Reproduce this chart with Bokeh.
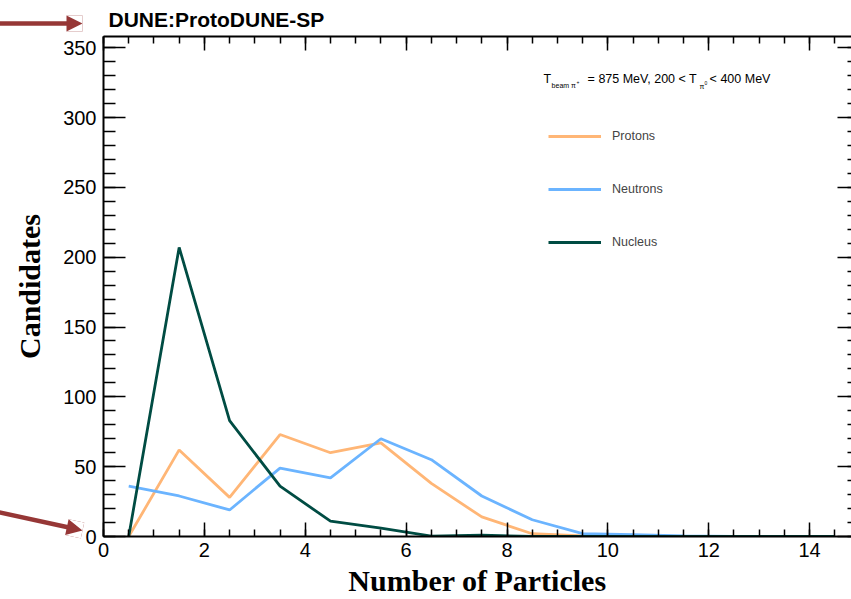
import math
from bokeh.plotting import figure
from bokeh.models import (Range1d, LinearAxis, SingleIntervalTicker, Label, Legend,
                          LegendItem, Arrow, NormalHead, OpenHead, CustomJSTickFormatter,
                          ColumnDataSource)
from bokeh.embed import file_html
from bokeh.resources import INLINE

# ---- data ----
n_particles = [0.5, 1.5, 2.5, 3.5, 4.5, 5.5, 6.5, 7.5, 8.5, 9.5, 10.5, 11.5, 12.5, 13.5, 14.5]
protons = [0, 62, 28, 73, 60, 67, 38, 14, 2, 0.4, 0, 0, 0, 0, 0]
neutrons = [36, 29, 19, 49, 42, 70, 55, 29, 12, 2, 1.3, 0.4, 0, 0, 0]
nucleus = [0, 207, 83, 36, 11, 6, 0.3, 1, 0, 0, 0, 0, 0, 0, 0]
series_names = ["Protons", "Neutrons", "Nucleus"]
series_colors = ["#FFB676", "#6BB4FF", "#004C43"]
x_ticks_interval = 2
y_ticks_interval = 50

TICK_FONT = "Liberation Sans"
TITLE_FONT = "Liberation Serif"

p = figure(width=851, height=599,
           x_range=Range1d(0, 14.83), y_range=Range1d(0, 358),
           output_backend="svg", toolbar_location=None,
           min_border_left=103, min_border_top=36, min_border_bottom=62, min_border_right=0)
p.outline_line_color = None
p.grid.visible = False
p.background_fill_color = "white"
p.border_fill_color = "white"

src = ColumnDataSource(dict(x=n_particles, Protons=protons, Neutrons=neutrons, Nucleus=nucleus))
renderers = []
for name, col in zip(series_names, series_colors):
    renderers.append(p.line("x", name, source=src, line_color=col, line_width=2.8))

bottom = p.below[0]
left = p.left[0]

xt = SingleIntervalTicker(interval=x_ticks_interval, num_minor_ticks=4)
yt = SingleIntervalTicker(interval=y_ticks_interval, num_minor_ticks=5)
blank = CustomJSTickFormatter(code="return ''")

top = LinearAxis(ticker=xt, formatter=blank)
right = LinearAxis(ticker=yt, formatter=blank)
p.add_layout(top, "above")
p.add_layout(right, "right")
bottom.ticker = xt
left.ticker = yt

for ax in (bottom, top):
    ax.major_tick_in = 14
    ax.minor_tick_in = 7
for ax in (left, right):
    ax.major_tick_in = 22
    ax.minor_tick_in = 12
for ax in (bottom, top, left, right):
    ax.major_tick_out = 0
    ax.minor_tick_out = 0
    ax.axis_line_width = 2
    ax.major_tick_line_width = 1.5
    ax.minor_tick_line_width = 1.5
    ax.axis_line_color = "black"
    ax.major_tick_line_color = "black"
    ax.minor_tick_line_color = "black"
    ax.major_label_text_font = TICK_FONT
    ax.major_label_text_font_size = "20px"
    ax.major_label_text_color = "black"
for ax in (top, right):
    ax.major_label_standoff = 0
right.axis_line_color = None
right.major_tick_in = 14
right.minor_tick_in = 4

bottom.axis_label = "Number of Particles"
left.axis_label = "Candidates"
for ax in (bottom, left):
    ax.axis_label_text_font = TITLE_FONT
    ax.axis_label_text_font_style = "bold"
    ax.axis_label_text_font_size = "30px"
    ax.axis_label_text_color = "black"
bottom.major_label_standoff = 6
bottom.axis_label_standoff = 4
left.major_label_standoff = 7
left.axis_label_standoff = 14

# title
p.title.text = "DUNE:ProtoDUNE-SP"
p.title.text_font = TICK_FONT
p.title.text_font_size = "21px"
p.title.text_font_style = "bold"
p.title.align = "left"
p.title.offset = 5
p.title.standoff = 11
p.title.text_color = "black"

# legend
leg_items = [LegendItem(label=n, renderers=[r]) for n, r in zip(series_names, renderers)]
legend = Legend(items=leg_items, location=(445, 284), glyph_width=53, glyph_height=20,
                label_height=20, spacing=33, padding=0, margin=0,
                border_line_color=None, background_fill_alpha=0,
                label_text_font=TICK_FONT, label_text_font_size="12.5px", label_standoff=11)
p.add_layout(legend)

# annotation text with sub/superscripts
def lab(x, y, t, size):
    p.add_layout(Label(x=x, y=y, text=t, text_font=TICK_FONT, text_font_size=size,
                       text_baseline="middle", text_align="left", text_color="black"))

lab(8.725, 327.9, "T", "12.5px")
lab(8.884, 322.7, "beam π", "7px")
lab(9.379, 325.4, "+", "5px")
lab(9.598, 327.9, "= 875 MeV, 200 < T", "12.5px")
lab(11.818, 322.3, "π", "7px")
lab(11.917, 324.5, "0", "5px")
lab(12.017, 327.9, "< 400 MeV", "12.5px")

# pointer arrows in the left margin (canvas pixels)
arrow_color = "#963736"

def arrow(sx, sy, tx, ty, head_len=16, shaft_w=4.5):
    dx, dy = tx - sx, ty - sy
    d = math.hypot(dx, dy)
    ux, uy = dx / d, dy / d
    # shaft
    ex, ey = tx - 8 * ux, ty - 8 * uy
    p.add_layout(Arrow(x_start=sx, y_start=sy, x_end=ex, y_end=ey,
                       start_units="canvas", end_units="canvas",
                       line_color=arrow_color, line_width=shaft_w,
                       end=NormalHead(size=400, fill_alpha=0, line_alpha=0)))
    # head: square block, then white ears trimmed off to leave a triangle
    for col, head in ((arrow_color, NormalHead(size=head_len, fill_alpha=0, line_alpha=0)),
                      ("white", OpenHead(size=head_len, line_alpha=0))):
        p.add_layout(Arrow(x_start=tx - 40 * ux, y_start=ty - 40 * uy, x_end=tx, y_end=ty,
                           start_units="canvas", end_units="canvas",
                           line_color=col, line_width=22, end=head))

arrow(-4, 23, 82, 23)
arrow(-4, 511.2, 82, 530)

open("out.html", "w").write(file_html(p, INLINE))
